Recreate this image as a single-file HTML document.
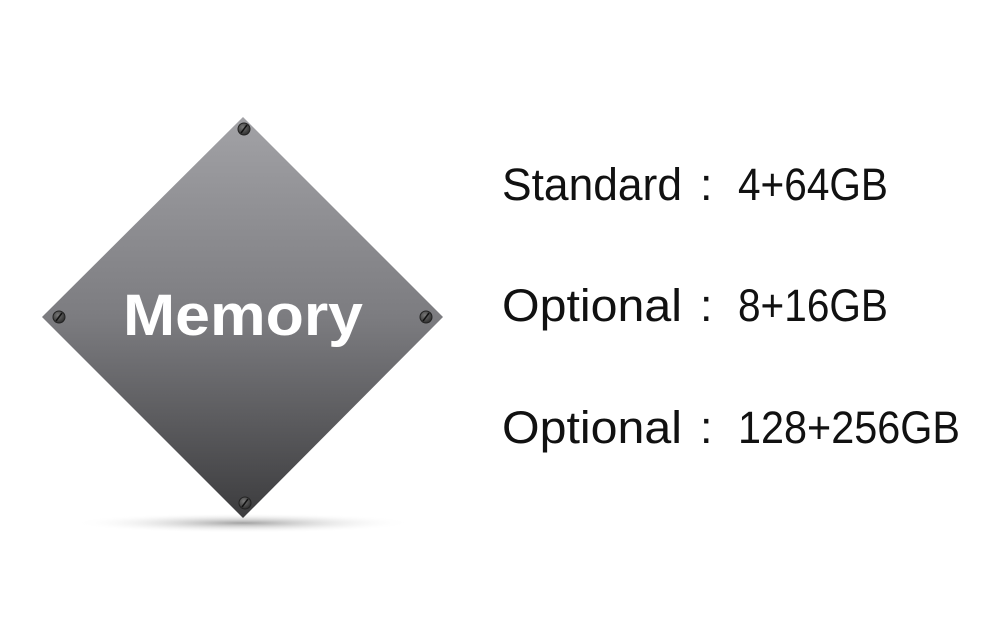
<!DOCTYPE html>
<html><head><meta charset="utf-8"><style>
html,body{margin:0;padding:0;background:#fff;}
svg{display:block}
</style></head><body>
<svg width="1000" height="622" viewBox="0 0 1000 622" xmlns="http://www.w3.org/2000/svg">
<defs>
<linearGradient id="g" x1="0" y1="0" x2="0" y2="1">
<stop offset="0" stop-color="#a2a2a6"/>
<stop offset="0.5" stop-color="#7c7c80"/>
<stop offset="1" stop-color="#3c3c3e"/>
</linearGradient>
<radialGradient id="sh" cx="0.5" cy="0.5" r="0.5">
<stop offset="0" stop-color="#555" stop-opacity="0.55"/>
<stop offset="1" stop-color="#fff" stop-opacity="0"/>
</radialGradient>
<radialGradient id="sc" cx="0.4" cy="0.35" r="0.7">
<stop offset="0" stop-color="#777"/>
<stop offset="1" stop-color="#2a2a2a"/>
</radialGradient>
</defs>
<ellipse cx="243" cy="523" rx="170" ry="10" fill="url(#sh)"/>
<polygon points="243,117 443,317 243,518 42,317" fill="url(#g)"/>
<g stroke="#222" stroke-width="1">
<circle cx="244" cy="129" r="6" fill="url(#sc)"/>
<circle cx="59" cy="317" r="6" fill="url(#sc)"/>
<circle cx="426" cy="317" r="6" fill="url(#sc)"/>
<circle cx="245" cy="503" r="6" fill="url(#sc)"/>
</g>
<g stroke="#111" stroke-width="1.5">
<line x1="241" y1="133" x2="247" y2="125"/>
<line x1="56" y1="321" x2="62" y2="313"/>
<line x1="423" y1="321" x2="429" y2="313"/>
<line x1="242" y1="507" x2="248" y2="499"/>
</g>
<text x="243" y="335" text-anchor="middle" font-family="Liberation Sans, sans-serif" font-weight="bold" font-size="58" fill="#fff" textLength="240" lengthAdjust="spacingAndGlyphs">Memory</text>
<g font-family="Liberation Sans, sans-serif" font-size="45" fill="#111">
<text x="502" y="200" textLength="180" lengthAdjust="spacingAndGlyphs">Standard</text>
<text x="700" y="200">:</text>
<text x="738" y="200" textLength="150" lengthAdjust="spacingAndGlyphs">4+64GB</text>
<text x="502" y="321" textLength="180" lengthAdjust="spacingAndGlyphs">Optional</text>
<text x="700" y="321">:</text>
<text x="738" y="321" textLength="150" lengthAdjust="spacingAndGlyphs">8+16GB</text>
<text x="502" y="443" textLength="180" lengthAdjust="spacingAndGlyphs">Optional</text>
<text x="700" y="443">:</text>
<text x="738" y="443" textLength="222" lengthAdjust="spacingAndGlyphs">128+256GB</text>
</g>
</svg>
</body></html>
